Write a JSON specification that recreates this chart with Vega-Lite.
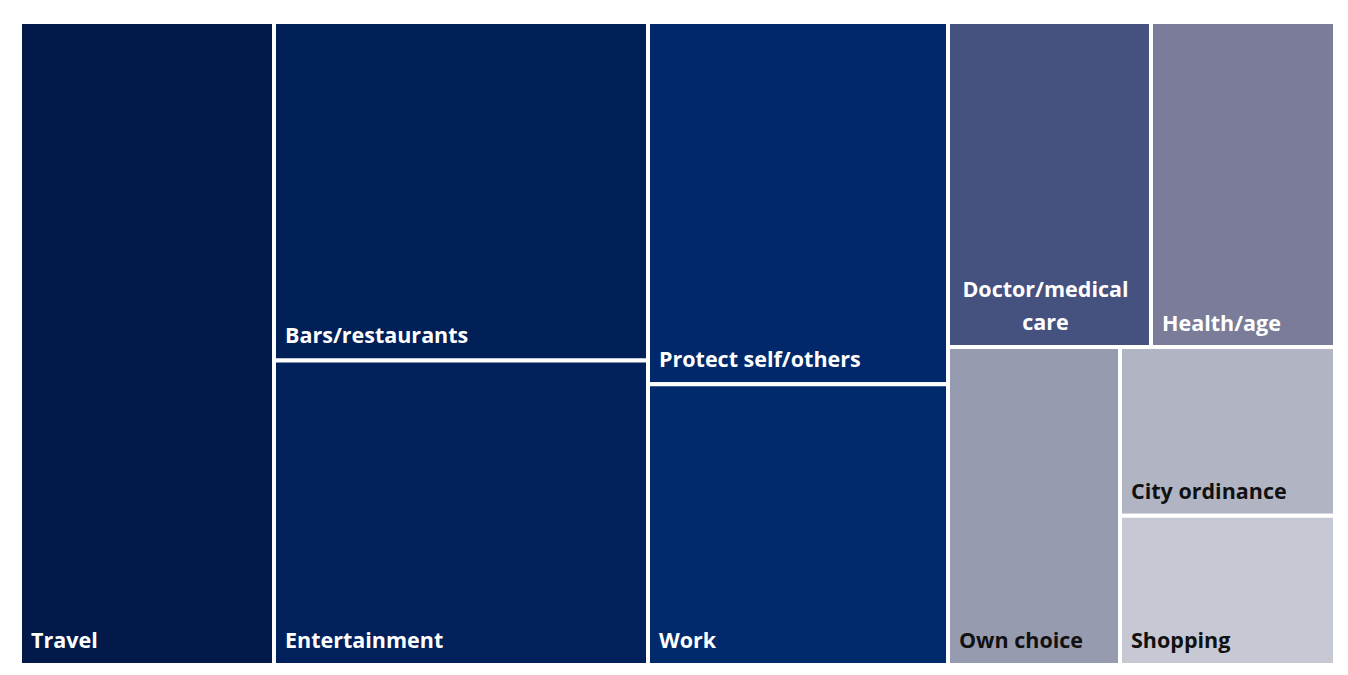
{
  "$schema": "https://vega.github.io/schema/vega-lite/v6.json",
  "padding": {"left": 20, "top": 22, "right": 13, "bottom": 10},
  "background": "white",
  "config": {"view": {"stroke": null}, "concat": {"spacing": 0}},
  "data": {"values": [
    {"name": "Travel", "value": 19.3, "group": "Travel"},
    {"name": "Bars/restaurants", "value": 15.0, "group": "BE"},
    {"name": "Entertainment", "value": 13.5, "group": "BE"},
    {"name": "Protect self/others", "value": 12.9, "group": "PW"},
    {"name": "Work", "value": 10.0, "group": "PW"},
    {"name": "Doctor/medical care", "value": 7.8, "group": "Doctor"},
    {"name": "Health/age", "value": 7.1, "group": "Health"},
    {"name": "Own choice", "value": 6.5, "group": "Own"},
    {"name": "City ordinance", "value": 4.3, "group": "CS"},
    {"name": "Shopping", "value": 3.8, "group": "CS"}
  ]},
  "spacing": 0,
  "hconcat": [
    {
      "width": 254, "height": 643,
      "transform": [{"filter": "datum.group === 'Travel'"}, {"stack": "value", "groupby": [], "offset": "normalize", "sort": [{"field": "value", "order": "ascending"}], "as": ["v0", "v1"]}],
      "encoding": {
        "x": {"field": "group", "type": "nominal", "axis": null, "scale": {"paddingInner": 0, "paddingOuter": 0}},
        "y": {"field": "v0", "type": "quantitative", "axis": null, "scale": {"domain": [0, 1], "nice": false}}
      },
      "layer": [
        {"mark": {"type": "rect", "stroke": "white", "strokeWidth": 4, "clip": true}, "encoding": {"y2": {"field": "v1"}, "color": {"field": "name", "type": "nominal", "legend": null, "scale": {"domain": ["Travel", "Bars/restaurants", "Entertainment", "Protect self/others", "Work", "Doctor/medical care", "Health/age", "Own choice", "City ordinance", "Shopping"], "range": ["#011a4a", "#002057", "#00215b", "#00286a", "#002a6c", "#45517f", "#7a7c9a", "#979bb0", "#b1b4c3", "#c6c8d3"]}}}},
        {"mark": {"type": "text", "clip": true, "align": "left", "baseline": "alphabetic", "dx": 11, "dy": -17, "font": "Open Sans", "fontSize": 21.5, "fontWeight": "bold", "color": "#ffffff"}, "encoding": {"x": {"field": "group", "type": "nominal", "bandPosition": 0, "axis": null}, "text": {"field": "name"}}}
      ]
    },
    {
      "width": 374, "height": 643,
      "transform": [{"filter": "datum.group === 'BE'"}, {"stack": "value", "groupby": [], "offset": "normalize", "sort": [{"field": "value", "order": "ascending"}], "as": ["v0", "v1"]}],
      "encoding": {
        "x": {"field": "group", "type": "nominal", "axis": null, "scale": {"paddingInner": 0, "paddingOuter": 0}},
        "y": {"field": "v0", "type": "quantitative", "axis": null, "scale": {"domain": [0, 1], "nice": false}}
      },
      "layer": [
        {"mark": {"type": "rect", "stroke": "white", "strokeWidth": 4, "clip": true}, "encoding": {"y2": {"field": "v1"}, "color": {"field": "name", "type": "nominal", "legend": null, "scale": {"domain": ["Travel", "Bars/restaurants", "Entertainment", "Protect self/others", "Work", "Doctor/medical care", "Health/age", "Own choice", "City ordinance", "Shopping"], "range": ["#011a4a", "#002057", "#00215b", "#00286a", "#002a6c", "#45517f", "#7a7c9a", "#979bb0", "#b1b4c3", "#c6c8d3"]}}}},
        {"mark": {"type": "text", "clip": true, "align": "left", "baseline": "alphabetic", "dx": 11, "dy": -17, "font": "Open Sans", "fontSize": 21.5, "fontWeight": "bold", "color": "#ffffff"}, "encoding": {"x": {"field": "group", "type": "nominal", "bandPosition": 0, "axis": null}, "text": {"field": "name"}}}
      ]
    },
    {
      "width": 300, "height": 643,
      "transform": [{"filter": "datum.group === 'PW'"}, {"stack": "value", "groupby": [], "offset": "normalize", "sort": [{"field": "value", "order": "ascending"}], "as": ["v0", "v1"]}],
      "encoding": {
        "x": {"field": "group", "type": "nominal", "axis": null, "scale": {"paddingInner": 0, "paddingOuter": 0}},
        "y": {"field": "v0", "type": "quantitative", "axis": null, "scale": {"domain": [0, 1], "nice": false}}
      },
      "layer": [
        {"mark": {"type": "rect", "stroke": "white", "strokeWidth": 4, "clip": true}, "encoding": {"y2": {"field": "v1"}, "color": {"field": "name", "type": "nominal", "legend": null, "scale": {"domain": ["Travel", "Bars/restaurants", "Entertainment", "Protect self/others", "Work", "Doctor/medical care", "Health/age", "Own choice", "City ordinance", "Shopping"], "range": ["#011a4a", "#002057", "#00215b", "#00286a", "#002a6c", "#45517f", "#7a7c9a", "#979bb0", "#b1b4c3", "#c6c8d3"]}}}},
        {"mark": {"type": "text", "clip": true, "align": "left", "baseline": "alphabetic", "dx": 11, "dy": -17, "font": "Open Sans", "fontSize": 21.5, "fontWeight": "bold", "color": "#ffffff"}, "encoding": {"x": {"field": "group", "type": "nominal", "bandPosition": 0, "axis": null}, "text": {"field": "name"}}}
      ]
    },
    {
      "spacing": 0,
      "vconcat": [
        {
          "spacing": 0,
          "hconcat": [
            {
              "width": 203, "height": 325,
              "transform": [{"filter": "datum.group === 'Doctor'"}, {"stack": "value", "groupby": [], "offset": "normalize", "sort": [{"field": "value", "order": "ascending"}], "as": ["v0", "v1"]}],
              "encoding": {
                "x": {"field": "group", "type": "nominal", "axis": null, "scale": {"paddingInner": 0, "paddingOuter": 0}},
                "y": {"field": "v0", "type": "quantitative", "axis": null, "scale": {"domain": [0, 1], "nice": false}}
              },
              "layer": [
                {"mark": {"type": "rect", "stroke": "white", "strokeWidth": 4, "clip": true}, "encoding": {"y2": {"field": "v1"}, "color": {"field": "name", "type": "nominal", "legend": null, "scale": {"domain": ["Travel", "Bars/restaurants", "Entertainment", "Protect self/others", "Work", "Doctor/medical care", "Health/age", "Own choice", "City ordinance", "Shopping"], "range": ["#011a4a", "#002057", "#00215b", "#00286a", "#002a6c", "#45517f", "#7a7c9a", "#979bb0", "#b1b4c3", "#c6c8d3"]}}}},
                {"mark": {"type": "text", "clip": true, "align": "center", "baseline": "alphabetic", "dx": -4, "dy": -50, "lineBreak": " ", "lineHeight": 33, "font": "Open Sans", "fontSize": 21.5, "fontWeight": "bold", "color": "#ffffff"}, "encoding": {"text": {"field": "name"}}}
              ]
            },
            {
              "width": 184, "height": 325,
              "transform": [{"filter": "datum.group === 'Health'"}, {"stack": "value", "groupby": [], "offset": "normalize", "sort": [{"field": "value", "order": "ascending"}], "as": ["v0", "v1"]}],
              "encoding": {
                "x": {"field": "group", "type": "nominal", "axis": null, "scale": {"paddingInner": 0, "paddingOuter": 0}},
                "y": {"field": "v0", "type": "quantitative", "axis": null, "scale": {"domain": [0, 1], "nice": false}}
              },
              "layer": [
                {"mark": {"type": "rect", "stroke": "white", "strokeWidth": 4, "clip": true}, "encoding": {"y2": {"field": "v1"}, "color": {"field": "name", "type": "nominal", "legend": null, "scale": {"domain": ["Travel", "Bars/restaurants", "Entertainment", "Protect self/others", "Work", "Doctor/medical care", "Health/age", "Own choice", "City ordinance", "Shopping"], "range": ["#011a4a", "#002057", "#00215b", "#00286a", "#002a6c", "#45517f", "#7a7c9a", "#979bb0", "#b1b4c3", "#c6c8d3"]}}}},
                {"mark": {"type": "text", "clip": true, "align": "left", "baseline": "alphabetic", "dx": 11, "dy": -16, "font": "Open Sans", "fontSize": 21.5, "fontWeight": "bold", "color": "#ffffff"}, "encoding": {"x": {"field": "group", "type": "nominal", "bandPosition": 0, "axis": null}, "text": {"field": "name"}}}
              ]
            }
          ]
        },
        {
          "spacing": 0,
          "hconcat": [
            {
              "width": 172, "height": 318,
              "transform": [{"filter": "datum.group === 'Own'"}, {"stack": "value", "groupby": [], "offset": "normalize", "sort": [{"field": "value", "order": "ascending"}], "as": ["v0", "v1"]}],
              "encoding": {
                "x": {"field": "group", "type": "nominal", "axis": null, "scale": {"paddingInner": 0, "paddingOuter": 0}},
                "y": {"field": "v0", "type": "quantitative", "axis": null, "scale": {"domain": [0, 1], "nice": false}}
              },
              "layer": [
                {"mark": {"type": "rect", "stroke": "white", "strokeWidth": 4, "clip": true}, "encoding": {"y2": {"field": "v1"}, "color": {"field": "name", "type": "nominal", "legend": null, "scale": {"domain": ["Travel", "Bars/restaurants", "Entertainment", "Protect self/others", "Work", "Doctor/medical care", "Health/age", "Own choice", "City ordinance", "Shopping"], "range": ["#011a4a", "#002057", "#00215b", "#00286a", "#002a6c", "#45517f", "#7a7c9a", "#979bb0", "#b1b4c3", "#c6c8d3"]}}}},
                {"mark": {"type": "text", "clip": true, "align": "left", "baseline": "alphabetic", "dx": 11, "dy": -17, "font": "Open Sans", "fontSize": 21.5, "fontWeight": "bold", "color": "#111111"}, "encoding": {"x": {"field": "group", "type": "nominal", "bandPosition": 0, "axis": null}, "text": {"field": "name"}}}
              ]
            },
            {
              "width": 215, "height": 318,
              "transform": [{"filter": "datum.group === 'CS'"}, {"stack": "value", "groupby": [], "offset": "normalize", "sort": [{"field": "value", "order": "ascending"}], "as": ["v0", "v1"]}],
              "encoding": {
                "x": {"field": "group", "type": "nominal", "axis": null, "scale": {"paddingInner": 0, "paddingOuter": 0}},
                "y": {"field": "v0", "type": "quantitative", "axis": null, "scale": {"domain": [0, 1], "nice": false}}
              },
              "layer": [
                {"mark": {"type": "rect", "stroke": "white", "strokeWidth": 4, "clip": true}, "encoding": {"y2": {"field": "v1"}, "color": {"field": "name", "type": "nominal", "legend": null, "scale": {"domain": ["Travel", "Bars/restaurants", "Entertainment", "Protect self/others", "Work", "Doctor/medical care", "Health/age", "Own choice", "City ordinance", "Shopping"], "range": ["#011a4a", "#002057", "#00215b", "#00286a", "#002a6c", "#45517f", "#7a7c9a", "#979bb0", "#b1b4c3", "#c6c8d3"]}}}},
                {"mark": {"type": "text", "clip": true, "align": "left", "baseline": "alphabetic", "dx": 11, "dy": -17, "font": "Open Sans", "fontSize": 21.5, "fontWeight": "bold", "color": "#111111"}, "encoding": {"x": {"field": "group", "type": "nominal", "bandPosition": 0, "axis": null}, "text": {"field": "name"}}}
              ]
            }
          ]
        }
      ]
    }
  ]
}
